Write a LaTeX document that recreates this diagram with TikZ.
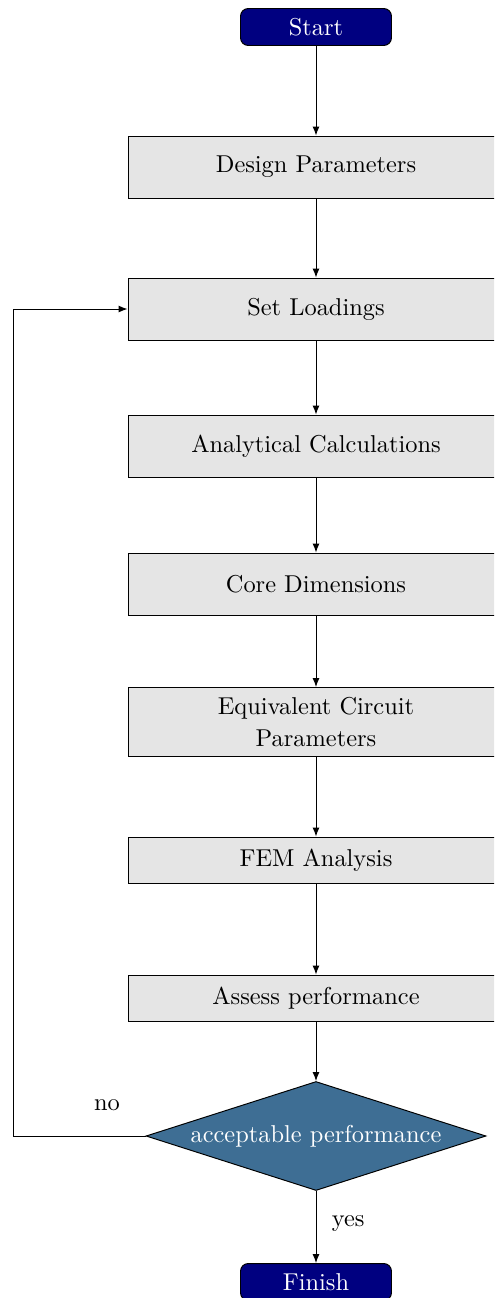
\documentclass[tikz,border=0pt]{standalone}
\usetikzlibrary{shapes.geometric,arrows.meta}
\definecolor{termblue}{RGB}{0,0,128}
\definecolor{decblue}{RGB}{62,110,148}
\tikzset{
  terminal/.style={draw, rounded corners=3.2pt, fill=termblue, text=white,
    minimum width=151*0.41pt, minimum height=37*0.41pt, inner sep=0pt},
  process/.style={draw, fill=black!10, minimum width=376*0.41pt,
    inner sep=0pt, align=center, font={\fontsize{10}{13}\selectfont}},
  decision/.style={draw, diamond, aspect=3.12, fill=decblue, text=white,
    inner sep=0pt, minimum width=340*0.41pt, minimum height=109*0.41pt},
  flow/.style={draw, line width=0.4pt, -{Latex[length=3.6pt,width=2.8pt]}},
  every node/.append style={line width=0.4pt}
}
\begin{document}
\begin{tikzpicture}[x=0.41pt,y=-0.41pt]
  \useasboundingbox (0,0) rectangle (494,1298);
  \begin{scope}
  \clip (0,0) rectangle (494,1298);
  \node[terminal] (start) at (316,27) {Start};
  \node[process, minimum height=62*0.41pt] (design) at (316,167) {Design Parameters};
  \node[process, minimum height=62*0.41pt] (load) at (316,309) {Set Loadings};
  \node[process, minimum height=62*0.41pt] (calc) at (316,446) {Analytical Calculations};
  \node[process, minimum height=62*0.41pt] (core) at (316,584) {Core Dimensions};
  \node[process, minimum height=69*0.41pt] (equiv) at (316,722) {Equivalent Circuit\\Parameters};
  \node[process, minimum height=46*0.41pt] (fem) at (316,860) {FEM Analysis};
  \node[process, minimum height=46*0.41pt] (assess) at (316,998) {Assess performance};
  \node[decision] (ok) at (316,1136) {acceptable performance};
  \node[terminal] (finish) at (316,1282) {Finish};
  \coordinate (back) at (13,1136);

  \draw[flow] (start) -- (design);
  \draw[flow] (design) -- (load);
  \draw[flow] (load) -- (calc);
  \draw[flow] (calc) -- (core);
  \draw[flow] (core) -- (equiv);
  \draw[flow] (equiv) -- (fem);
  \draw[flow] (fem) -- (assess);
  \draw[flow] (assess) -- (ok);
  \draw[flow] (ok) -- node[right=3pt, pos=0.45] {yes} (finish);
  \draw[flow] (ok.west) -- (back) |- (load.west);
  \node (no) at (107,1105) {no};
  \end{scope}
\end{tikzpicture}
\end{document}
